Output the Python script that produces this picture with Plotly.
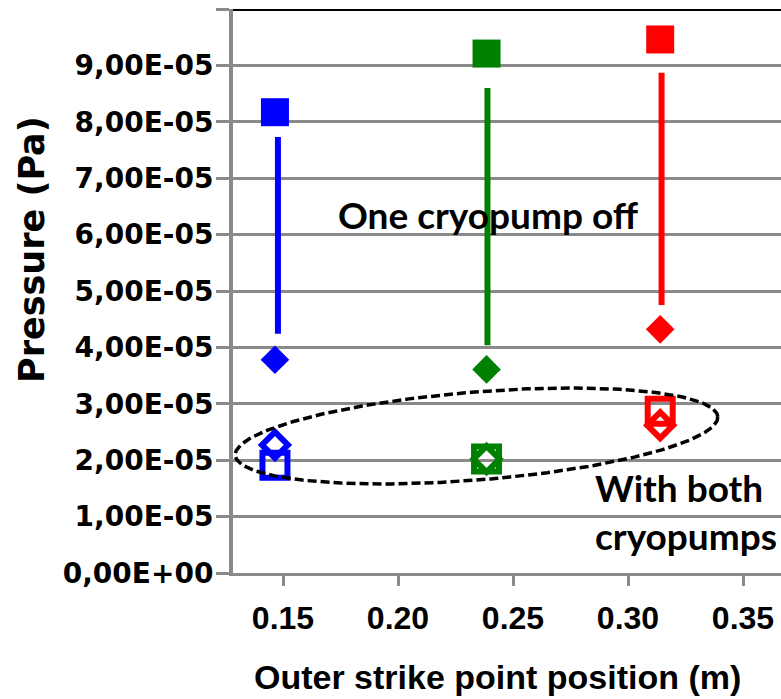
import numpy as np
import plotly.graph_objects as go

# ---- data ----
positions = [0.1465, 0.2385, 0.3140]            # outer strike point position (m)
colors = ["#0000FF", "#008000", "#FF0000"]
off_square = [8.17e-5, 9.21e-5, 9.46e-5]         # one cryopump off (filled squares)
off_diamond = [3.78e-5, 3.61e-5, 4.32e-5]        # one cryopump off (filled diamonds)
both_square = [1.91e-5, 2.02e-5, 2.87e-5]        # both cryopumps (open squares)
both_diamond = [2.27e-5, 2.02e-5, 2.62e-5]       # both cryopumps (open diamonds)
line_x = [0.1478, 0.2389, 0.3146]
line_top = [7.73e-5, 8.60e-5, 8.87e-5]
line_bottom = [4.24e-5, 4.04e-5, 4.75e-5]
x_ticks = [0.15, 0.20, 0.25, 0.30, 0.35]
x_ticktext = ["0.15", "0.20", "0.25", "0.30", "0.35"]
y_ticks = [i * 1e-5 for i in range(11)]
y_ticktext = ["0,00E+00", "1,00E-05", "2,00E-05", "3,00E-05", "4,00E-05",
              "5,00E-05", "6,00E-05", "7,00E-05", "8,00E-05", "9,00E-05", ""]

# ---- geometry ----
W, H = 781, 699
L, T, B = 233, 9, 126
PW = W - L
PH = H - T - B
k = 0.05 / 115.0
x0 = 0.15 - 50 * k
x1 = x0 + PW * k
ymax = 1e-4

def px2x(px):
    return x0 + (px - L) * k

def py2y(py):
    return (T + PH - py) * ymax / PH

GRID = "#8a8a8a"

fig = go.Figure()

# vertical connecting lines
for i in range(3):
    fig.add_trace(go.Scatter(x=[line_x[i], line_x[i]], y=[line_bottom[i], line_top[i]],
                             mode="lines", line=dict(color=colors[i], width=6),
                             showlegend=False, hoverinfo="skip"))

# filled markers
fig.add_trace(go.Scatter(x=positions, y=off_square, mode="markers",
                         marker=dict(symbol="square", size=28, color=colors,
                                     line=dict(width=0)), showlegend=False))
fig.add_trace(go.Scatter(x=positions, y=off_diamond, mode="markers",
                         marker=dict(symbol="diamond", size=22, color=colors,
                                     line=dict(width=0)), showlegend=False))
# open markers
fig.add_trace(go.Scatter(x=positions, y=both_square, mode="markers",
                         marker=dict(symbol="square-open", size=25, color=colors,
                                     line=dict(width=6, color=colors)), showlegend=False))
fig.add_trace(go.Scatter(x=positions, y=both_diamond, mode="markers",
                         marker=dict(symbol="diamond-open", size=20, color=colors,
                                     line=dict(width=6, color=colors)), showlegend=False))

# dashed ellipse (annotation decoration) built in pixel space
cx, cy, a, b, th = 476.5, 436.0, 242.0, 44.0, np.deg2rad(-4.6)
t = np.linspace(0, 2 * np.pi, 240)
ex = cx + a * np.cos(t) * np.cos(th) - b * np.sin(t) * np.sin(th)
ey = cy + a * np.cos(t) * np.sin(th) + b * np.sin(t) * np.cos(th)
fig.add_trace(go.Scatter(x=px2x(ex), y=py2y(ey), mode="lines",
                         line=dict(color="black", width=3.5, dash="9px,4px"),
                         showlegend=False, hoverinfo="skip"))

# top border line
fig.add_shape(type="line", xref="paper", x0=0, x1=1, yref="y", y0=ymax, y1=ymax,
              line=dict(color="black", width=4))

def pxp(px):
    return (px - L) / PW

def pyp(py):
    return (T + PH - py) / PH

fig.add_annotation(text="One cryopump off", xref="paper", yref="paper",
                   x=pxp(488), y=pyp(214), showarrow=False,
                   font=dict(family="Lato", size=37, color="black", weight="bold"),
                   xanchor="center", yanchor="middle")
fig.add_annotation(text="With both<br>cryopumps", xref="paper", yref="paper",
                   x=pxp(593), y=pyp(463), showarrow=False, align="left",
                   font=dict(family="Lato", size=37, color="black", weight="bold"),
                   xanchor="left", yanchor="top")
fig.add_annotation(text="Outer strike point position (m)", xref="paper", yref="paper",
                   x=pxp(497), y=pyp(677), showarrow=False,
                   font=dict(family="Liberation Sans", size=34, color="black", weight="bold"),
                   xanchor="center", yanchor="middle")
fig.add_annotation(text="Pressure (Pa)", xref="paper", yref="paper",
                   x=pxp(32), y=pyp(250), showarrow=False, textangle=-90,
                   font=dict(family="DejaVu Sans", size=35, color="black", weight="bold"),
                   xanchor="center", yanchor="middle")

fig.update_layout(
    width=W, height=H,
    margin=dict(l=L, r=0, t=T, b=B, pad=0),
    plot_bgcolor="white", paper_bgcolor="white",
    showlegend=False,
    xaxis=dict(range=[x0, x1], tickvals=x_ticks, ticktext=x_ticktext,
               showgrid=False, zeroline=False, showline=True, linecolor=GRID, linewidth=3,
               ticks="outside", ticklen=10, tickwidth=3, tickcolor=GRID,
               tickfont=dict(family="Liberation Sans", size=32, color="black", weight="bold"),
               ticklabelstandoff=5),
    yaxis=dict(range=[0, ymax], tickvals=y_ticks, ticktext=y_ticktext,
               showgrid=True, gridcolor=GRID, gridwidth=3, zeroline=False,
               showline=True, linecolor=GRID, linewidth=4,
               ticks="outside", ticklen=13, tickwidth=3, tickcolor=GRID,
               tickfont=dict(family="DejaVu Sans", size=28, color="black", weight="bold"),
               ticklabelstandoff=-3),
)

fig.write_html("out.html")
